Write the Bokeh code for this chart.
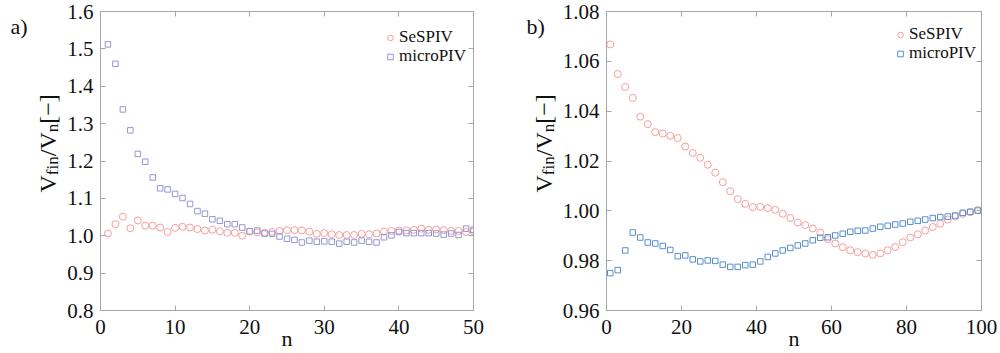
import math
from bokeh.plotting import figure
from bokeh.models import (LinearAxis, FixedTicker, Legend, LegendItem, Label,
                          PrintfTickFormatter, CustomJSTickFormatter, Range1d)
from bokeh.layouts import row
from bokeh.embed import file_html
from bokeh.resources import INLINE

# ---------------- data ----------------
n_a = list(range(1, 51))
sespiv_a = [1.006, 1.031, 1.051, 1.020, 1.041, 1.027, 1.027, 1.022, 1.010, 1.021,
            1.024, 1.022, 1.018, 1.014, 1.016, 1.012, 1.008, 1.008, 1.000, 1.011,
            1.009, 1.008, 1.010, 1.013, 1.015, 1.015, 1.014, 1.011, 1.005, 1.007,
            1.004, 1.002, 1.002, 1.002, 1.005, 1.004, 1.006, 1.011, 1.013, 1.014,
            1.014, 1.016, 1.019, 1.016, 1.017, 1.015, 1.013, 1.013, 1.010, 1.012]
micropiv_a = [1.512, 1.460, 1.338, 1.282, 1.219, 1.198, 1.156, 1.127, 1.124, 1.112,
              1.101, 1.085, 1.066, 1.059, 1.044, 1.040, 1.031, 1.031, 1.022, 1.012,
              1.014, 1.006, 1.005, 0.998, 0.992, 0.989, 0.982, 0.987, 0.984, 0.985,
              0.984, 0.979, 0.984, 0.982, 0.987, 0.984, 0.982, 0.996, 1.001, 1.010,
              1.007, 1.007, 1.007, 1.007, 1.006, 1.003, 1.006, 1.002, 1.019, 1.016]

n_b = list(range(1, 100, 2))
sespiv_b = [1.0668, 1.0549, 1.0497, 1.0453, 1.0378, 1.0348, 1.0316, 1.0310, 1.0301, 1.0292,
            1.0258, 1.0232, 1.0213, 1.0185, 1.0153, 1.0115, 1.0079, 1.0047, 1.0028, 1.0015,
            1.0016, 1.0011, 1.0004, 0.9988, 0.9971, 0.9953, 0.9943, 0.9929, 0.9913, 0.9886,
            0.9869, 0.9854, 0.9842, 0.9834, 0.9829, 0.9823, 0.9829, 0.9842, 0.9855, 0.9874,
            0.9893, 0.9906, 0.9921, 0.9935, 0.9948, 0.9965, 0.9977, 0.9988, 0.9995, 1.0003]
micropiv_b = [0.9750, 0.9762, 0.9841, 0.9913, 0.9893, 0.9873, 0.9869, 0.9859, 0.9843, 0.9818,
              0.9821, 0.9805, 0.9797, 0.9801, 0.9799, 0.9784, 0.9775, 0.9775, 0.9782, 0.9784,
              0.9797, 0.9815, 0.9829, 0.9841, 0.9851, 0.9861, 0.9869, 0.9882, 0.9892, 0.9894,
              0.9901, 0.9908, 0.9916, 0.9920, 0.9921, 0.9929, 0.9936, 0.9940, 0.9945, 0.9949,
              0.9956, 0.9960, 0.9965, 0.9971, 0.9975, 0.9977, 0.9981, 0.9992, 0.9996, 1.0001]

xticks_a = [0, 10, 20, 30, 40, 50]
yticks_a = [0.8, 0.9, 1.0, 1.1, 1.2, 1.3, 1.4, 1.5, 1.6]
xticks_b = [0, 20, 40, 60, 80, 100]
yticks_b = [0.96, 0.98, 1.00, 1.02, 1.04, 1.06, 1.08]

series_names = ["SeSPIV", "microPIV"]
panel_names = ["a)", "b)"]
x_title = "n"

FONT = "Liberation Serif"
AX = "#a6a6a6"
RED = "#F59E9C"
PURPLE = "#9696D4"
BLUE = "#5A8ED0"
TXT = "#111111"
H = 353


def style_axis(ax, ticks, fmt, labels=True, standoff=7):
    ax.ticker = FixedTicker(ticks=ticks)
    ax.axis_line_color = AX
    ax.major_tick_line_color = AX
    ax.major_tick_in = 5
    ax.major_tick_out = 0
    ax.minor_tick_line_color = None
    ax.major_label_text_font = FONT
    ax.major_label_text_color = TXT
    ax.major_label_text_font_size = "21px"
    if labels:
        ax.formatter = PrintfTickFormatter(format=fmt)
        ax.major_label_standoff = standoff
    else:
        ax.formatter = CustomJSTickFormatter(code="return ''")
        ax.major_label_standoff = 0


def label_strip(width, xb, y0, tag, tag_x, fs=24):
    """A bare figure (no axes) that carries the rotated y-axis title and the panel tag."""
    s = figure(width=width, height=H, output_backend="svg", toolbar_location=None,
               x_range=Range1d(0, 1), y_range=Range1d(0, 1),
               x_axis_location=None, y_axis_location=None,
               min_border=0, min_border_left=0, min_border_right=0,
               min_border_top=0, min_border_bottom=0)
    s.outline_line_color = None
    s.grid.visible = False
    s.border_fill_color = "white"
    sub = 17
    pieces = [("V", fs, 0, 0.722 * fs),
              ("fin", sub, 5, 1.111 * sub),
              ("/V", fs, 0, 1.0 * fs),
              ("n", sub, 5, 0.5 * sub),
              (" [\u2212]", fs, 0, 1.48 * fs)]
    y = y0
    for txt, size, dx, w in pieces:
        s.add_layout(Label(x=xb + dx, y=y, x_units="canvas", y_units="canvas",
                           text=txt, angle=math.pi / 2, text_font=FONT,
                           text_font_size=f"{size}px", text_color=TXT,
                           text_baseline="alphabetic", text_align="left"))
        y -= w
    s.add_layout(Label(x=tag_x, y=26, x_units="canvas", y_units="canvas", text=tag,
                       text_font=FONT, text_font_size="22px", text_color=TXT,
                       text_baseline="alphabetic"))
    return s


def make_panel(width, bl, br, xr, yr, xt, yt, xf, yf, x, s1, s2, c2, legx, legy):
    p = figure(width=width, height=H, output_backend="svg", toolbar_location=None,
               x_range=Range1d(*xr), y_range=Range1d(*yr),
               min_border_left=bl, min_border_right=br,
               min_border_top=11, min_border_bottom=43)
    p.outline_line_color = None
    p.grid.visible = False
    p.background_fill_color = "white"
    p.border_fill_color = "white"
    style_axis(p.xaxis[0], xt, xf, standoff=9)
    style_axis(p.yaxis[0], yt, yf)
    p.xaxis[0].axis_label = x_title
    p.xaxis[0].axis_label_text_font = FONT
    p.xaxis[0].axis_label_text_font_size = "22px"
    p.xaxis[0].axis_label_text_font_style = "normal"
    p.xaxis[0].axis_label_text_color = TXT
    p.xaxis[0].axis_label_standoff = -11
    top = LinearAxis()
    style_axis(top, xt, xf, labels=False)
    p.add_layout(top, "above")
    right = LinearAxis()
    style_axis(right, yt, yf, labels=False)
    p.add_layout(right, "right")

    r1 = p.scatter(x, s1, marker="circle", size=7, fill_color=None,
                   line_color=RED, line_width=1)
    r2 = p.scatter(x, s2, marker="square", size=5.5, fill_color=None,
                   line_color=c2, line_width=1)

    for name, r, ly in ((series_names[0], r1, legy[0]), (series_names[1], r2, legy[1])):
        leg = Legend(items=[LegendItem(label=name, renderers=[r])],
                     location=(legx, ly), label_text_font=FONT,
                     label_text_font_size="17px", label_text_color=TXT,
                     label_height=15, glyph_height=15, glyph_width=14, spacing=0,
                     padding=0, margin=0, label_standoff=2,
                     border_line_color=None, background_fill_alpha=0)
        p.add_layout(leg)
    return p


sa = label_strip(64, 47, 192, panel_names[0], 10)
p1 = make_panel(456, 36, 47, (0, 50), (0.8, 1.6), xticks_a, yticks_a, "%d", "%.1f",
                n_a, sespiv_a, micropiv_a, PURPLE, 283, (263, 244))
sb = label_strip(38, 23, 192, panel_names[1], 6)
p2 = make_panel(442, 48, 19, (0, 100), (0.96, 1.08), xticks_b, yticks_b, "%d", "%.2f",
                n_b, sespiv_b, micropiv_b, BLUE, 287, (266, 247))

layout = row(sa, p1, sb, p2)
open("out.html", "w").write(file_html(layout, INLINE))
